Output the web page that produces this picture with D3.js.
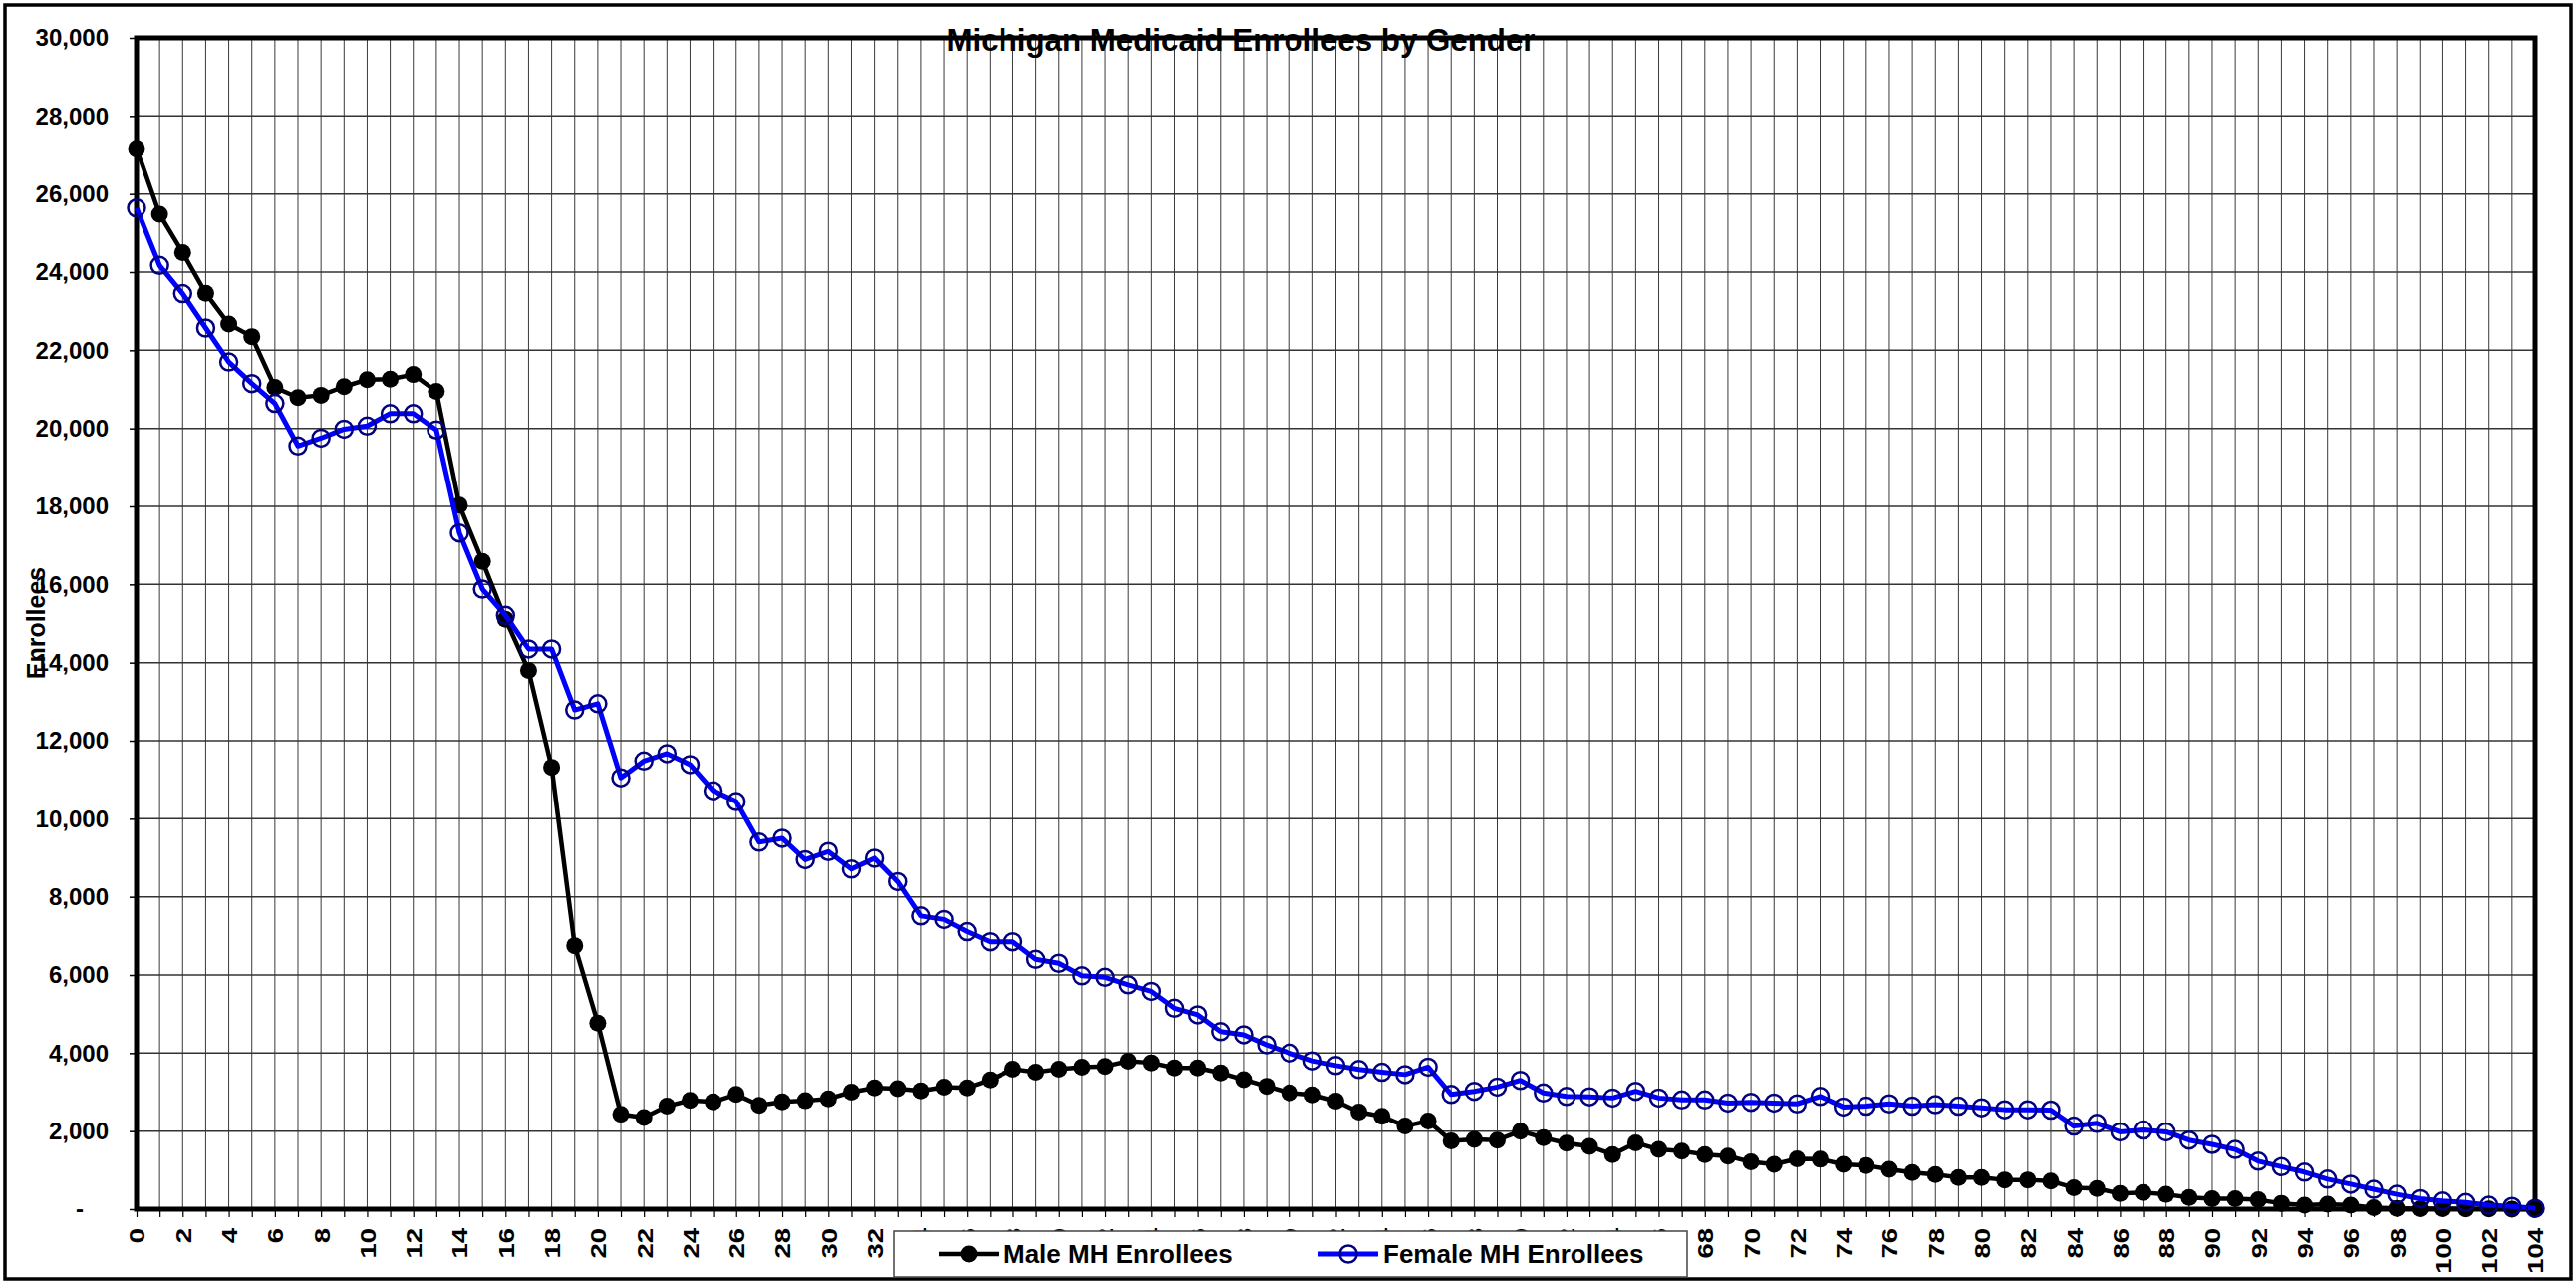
<!DOCTYPE html>
<html>
<head>
<meta charset="utf-8">
<title>Michigan Medicaid Enrollees by Gender</title>
<script src="https://cdn.jsdelivr.net/npm/d3@7/dist/d3.min.js"></script>
<style>
  html, body { margin: 0; padding: 0; background: #fff; }
  svg { display: block; }
  text { font-family: "Liberation Sans", Arial, Helvetica, sans-serif; font-weight: bold; fill: #000; }
</style>
</head>
<body>
<svg id="chart" width="2585" height="1287"></svg>
<script>
// Ages 0..104
const ages = d3.range(0, 105);

// Enrollees by single year of age
const maleEnrollees = [
  27170, 25480, 24500, 23460, 22670, 22350, 21050, 20790, 20850, 21070,
  21250, 21260, 21380, 20950, 18030, 16590, 15110, 13800, 11320, 6750,
  4770, 2430, 2350, 2640, 2790, 2750, 2940, 2660, 2750, 2780,
  2830, 3000, 3110, 3090, 3030, 3130, 3110, 3310, 3590, 3510,
  3590, 3640, 3660, 3790, 3750, 3620, 3620, 3490, 3320, 3150,
  2980, 2930, 2770, 2490, 2380, 2130, 2260, 1750, 1790, 1770,
  2000, 1830, 1690, 1610, 1400, 1700, 1530, 1490, 1400, 1360,
  1210, 1150, 1290, 1280, 1150, 1120, 1020, 940, 890, 810,
  810, 750, 750, 720, 550, 530, 400, 430, 380, 300,
  270, 270, 240, 150, 100, 130, 100, 40, 20, 10,
  10, 5, 5, 3, 2
];

const femaleEnrollees = [
  25640, 24170, 23450, 22570, 21700, 21150, 20640, 19550, 19750, 19980,
  20060, 20380, 20380, 19960, 17320, 15880, 15210, 14350, 14350, 12790,
  12950, 11050, 11480, 11670, 11390, 10720, 10440, 9400, 9500, 8950,
  9160, 8710, 8990, 8390, 7510, 7420, 7110, 6850, 6850, 6400,
  6300, 5980, 5940, 5750, 5580, 5150, 4980, 4550, 4470, 4210,
  4000, 3800, 3680, 3580, 3510, 3450, 3640, 2940, 3020, 3130,
  3300, 2980, 2890, 2880, 2850, 3020, 2850, 2800, 2800, 2720,
  2740, 2720, 2700, 2890, 2620, 2640, 2700, 2640, 2680, 2640,
  2600, 2550, 2550, 2540, 2130, 2200, 1980, 2030, 1980, 1770,
  1660, 1530, 1230, 1090, 950, 770, 640, 510, 380, 270,
  210, 170, 100, 70, 20
];

const yTicks = d3.range(0, 30001, 2000);
const seriesNames = ["Male MH Enrollees", "Female MH Enrollees"];
const chartTitle = "Michigan Medicaid Enrollees by Gender";
const yAxisTitle = "Enrollees";

// Layout
const plot = { left: 137, right: 2544, top: 38, bottom: 1213 };

const svg = d3.select("#chart");

const x = d3.scalePoint().domain(ages).range([plot.left, plot.right]).padding(0);
const y = d3.scaleLinear().domain([0, 30000]).range([plot.bottom, plot.top]);

// Outer chart frame
svg.append("rect")
  .attr("x", 5).attr("y", 5)
  .attr("width", 2575).attr("height", 1278)
  .attr("fill", "#fff").attr("stroke", "#000").attr("stroke-width", 3.5);

// Gridlines
const grid = svg.append("g");
grid.selectAll("line.v")
  .data(ages.slice(1, -1))
  .join("line")
  .attr("class", "v")
  .attr("x1", d => x(d)).attr("x2", d => x(d))
  .attr("y1", plot.top).attr("y2", plot.bottom)
  .attr("stroke", "#3a3a3a").attr("stroke-width", 1);

grid.selectAll("line.h")
  .data(yTicks.slice(1, -1))
  .join("line")
  .attr("class", "h")
  .attr("x1", plot.left).attr("x2", plot.right)
  .attr("y1", d => y(d)).attr("y2", d => y(d))
  .attr("stroke", "#333").attr("stroke-width", 1.5);

// Y axis
const yAxis = d3.axisLeft(y)
  .tickValues(yTicks)
  .tickSize(7)
  .tickPadding(21)
  .tickFormat(d => d === 0 ? "-" : d3.format(",")(d));

const gy = svg.append("g")
  .attr("transform", `translate(${plot.left},0)`)
  .call(yAxis);
gy.select(".domain").remove();
gy.selectAll(".tick line").attr("stroke", "#000").attr("stroke-width", 1.5);
gy.selectAll(".tick text")
  .attr("font-size", 24)
  .attr("fill", "#000")
  .style("font-family", '"Liberation Sans", Arial, sans-serif')
  .style("font-weight", "bold")
  .attr("dx", d => d === 0 ? -25 : 0);

// X axis (labels on even ages, read bottom-to-top, slightly stretched)
const labelStretch = 1.25;
const xAxis = d3.axisBottom(x)
  .tickValues(ages)
  .tickSize(8)
  .tickFormat(d => d % 2 === 0 ? String(d) : "");

const gx = svg.append("g")
  .attr("transform", `translate(0,${plot.bottom})`)
  .call(xAxis);
gx.select(".domain").remove();
gx.selectAll(".tick line").attr("stroke", "#000").attr("stroke-width", 1.2);
gx.selectAll(".tick text")
  .attr("font-size", 22)
  .attr("fill", "#000")
  .style("font-family", '"Liberation Sans", Arial, sans-serif')
  .style("font-weight", "bold")
  .attr("transform", `rotate(-90) scale(${labelStretch},1)`)
  .attr("x", -19 / labelStretch)
  .attr("y", 0)
  .attr("dy", "0.36em")
  .attr("text-anchor", "end");

// Plot frame
svg.append("rect")
  .attr("x", plot.left).attr("y", plot.top)
  .attr("width", plot.right - plot.left).attr("height", plot.bottom - plot.top)
  .attr("fill", "none").attr("stroke", "#000").attr("stroke-width", 5);

// Series
const line = d3.line().x((d, i) => x(ages[i])).y(d => y(d));

svg.append("path")
  .datum(maleEnrollees)
  .attr("d", line)
  .attr("fill", "none").attr("stroke", "#000").attr("stroke-width", 4.5)
  .attr("stroke-linejoin", "round");

svg.append("g").selectAll("circle")
  .data(maleEnrollees)
  .join("circle")
  .attr("cx", (d, i) => x(ages[i])).attr("cy", d => y(d))
  .attr("r", 8.5).attr("fill", "#000");

svg.append("path")
  .datum(femaleEnrollees)
  .attr("d", line)
  .attr("fill", "none").attr("stroke", "#0000ff").attr("stroke-width", 5)
  .attr("stroke-linejoin", "round");

svg.append("g").selectAll("circle")
  .data(femaleEnrollees)
  .join("circle")
  .attr("cx", (d, i) => x(ages[i])).attr("cy", d => y(d))
  .attr("r", 8.5).attr("fill", "none").attr("stroke", "#000080").attr("stroke-width", 2.5);

// Title
svg.append("text")
  .attr("x", 1245).attr("y", 51)
  .attr("text-anchor", "middle")
  .attr("font-size", 31)
  .attr("textLength", 591)
  .attr("lengthAdjust", "spacingAndGlyphs")
  .text(chartTitle);

// Y axis title
svg.append("text")
  .attr("transform", "translate(45,625) rotate(-90)")
  .attr("text-anchor", "middle")
  .attr("font-size", 25)
  .text(yAxisTitle);

// Legend
const legend = svg.append("g");
legend.append("rect")
  .attr("x", 897).attr("y", 1235)
  .attr("width", 796).attr("height", 46)
  .attr("fill", "#fff").attr("stroke", "#444").attr("stroke-width", 1.5);

const legendItems = [
  { name: seriesNames[0], x0: 942, color: "#000", filled: true },
  { name: seriesNames[1], x0: 1323, color: "#0000ff", filled: false }
];
const ly = 1258;
legendItems.forEach(item => {
  legend.append("line")
    .attr("x1", item.x0).attr("x2", item.x0 + 60)
    .attr("y1", ly).attr("y2", ly)
    .attr("stroke", item.color).attr("stroke-width", item.filled ? 4.5 : 5);
  legend.append("circle")
    .attr("cx", item.x0 + 30).attr("cy", ly).attr("r", 8.5)
    .attr("fill", item.filled ? "#000" : "none")
    .attr("stroke", item.filled ? "none" : "#000080")
    .attr("stroke-width", 2.5);
  legend.append("text")
    .attr("x", item.x0 + 65).attr("y", ly + 9)
    .attr("font-size", 26)
    .text(item.name);
});
</script>
</body>
</html>
